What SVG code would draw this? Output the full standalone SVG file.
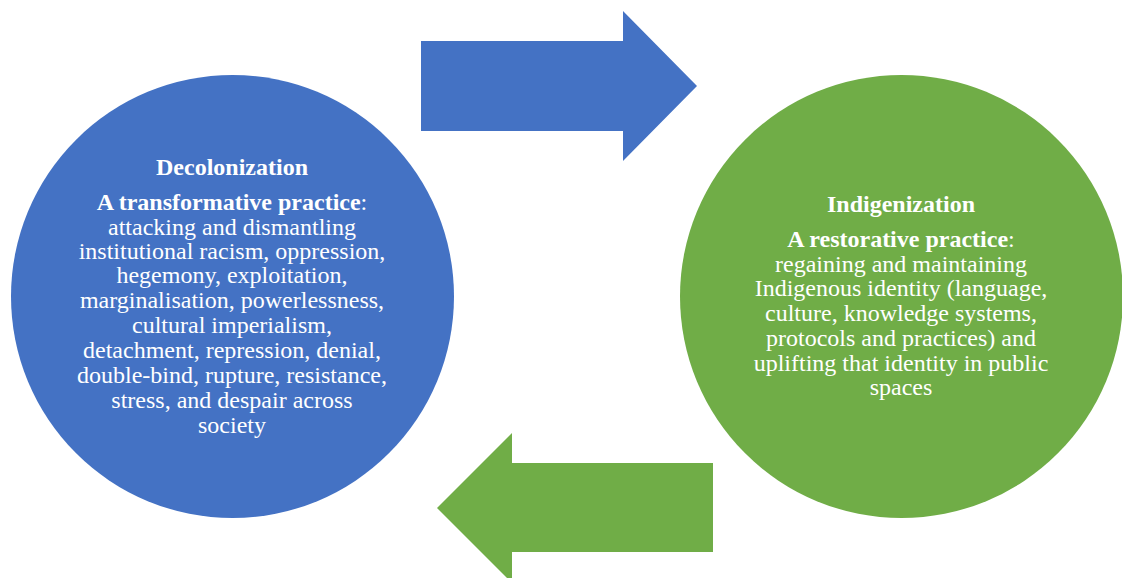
<svg xmlns="http://www.w3.org/2000/svg" width="1122" height="578" viewBox="0 0 1122 578">
<style>
.t{font-family:"Liberation Serif","Times New Roman",serif;font-size:24px;fill:#fff;text-anchor:middle}
.b{font-weight:bold}
</style>
<rect width="1122" height="578" fill="#fff"/>
<g id="connectors">
<polygon id="arrow-right" points="421,41 623,41 623,11 697,86 623,161 623,131 421,131" fill="#4472C4"/>
<polygon id="arrow-left" points="713,463 512,463 512,433 437,508 512,583 512,552 713,552" fill="#70AD47"/>
</g>
<g id="decolonization">
<circle cx="232.5" cy="296.5" r="221.5" fill="#4472C4"/>
<text class="t b" x="232" y="175">Decolonization</text>
<text class="t" x="232" y="210"><tspan class="b">A transformative practice</tspan>:</text>
<text class="t" x="232" y="235">attacking and dismantling</text>
<text class="t" x="232" y="259">institutional racism, oppression,</text>
<text class="t" x="232" y="283">hegemony, exploitation,</text>
<text class="t" x="232" y="308">marginalisation, powerlessness,</text>
<text class="t" x="232" y="333">cultural imperialism,</text>
<text class="t" x="232" y="358">detachment, repression, denial,</text>
<text class="t" x="232" y="383">double-bind, rupture, resistance,</text>
<text class="t" x="232" y="408">stress, and despair across</text>
<text class="t" x="232" y="433">society</text>
</g>
<g id="indigenization">
<circle cx="901.5" cy="296.5" r="221.5" fill="#70AD47"/>
<text class="t b" x="901" y="212">Indigenization</text>
<text class="t" x="901" y="247"><tspan class="b">A restorative practice</tspan>:</text>
<text class="t" x="901" y="272">regaining and maintaining</text>
<text class="t" x="901" y="296">Indigenous identity (language,</text>
<text class="t" x="901" y="321">culture, knowledge systems,</text>
<text class="t" x="901" y="346">protocols and practices) and</text>
<text class="t" x="901" y="371">uplifting that identity in public</text>
<text class="t" x="901" y="395">spaces</text>
</g>
</svg>
